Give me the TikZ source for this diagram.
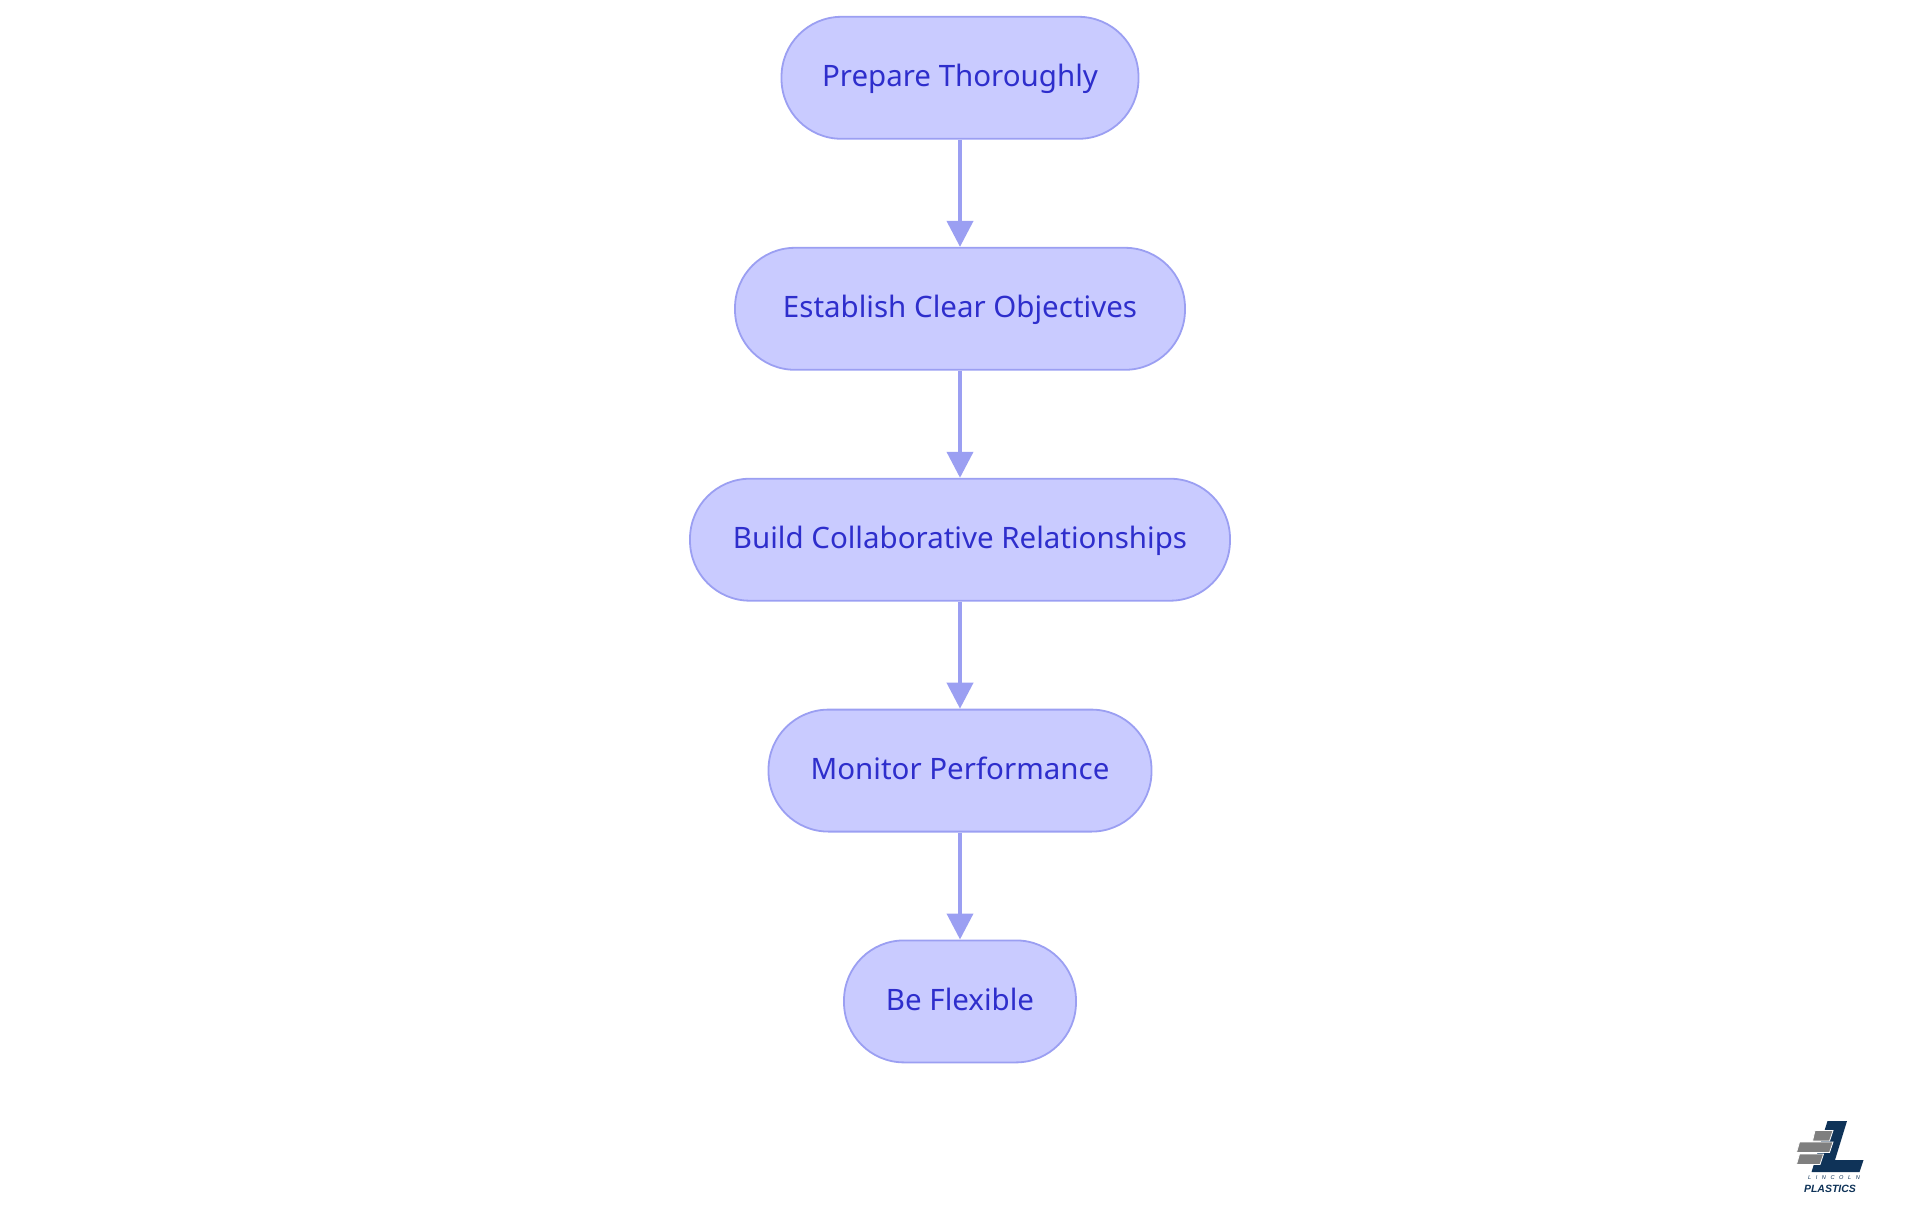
\documentclass[tikz,border=0pt]{standalone}
\usepackage{fontspec}
\setmainfont{Noto Sans}
\newfontfamily\logofont{Liberation Sans}
\usetikzlibrary{arrows.meta}
\definecolor{boxfill}{HTML}{C9CBFF}
\definecolor{boxline}{HTML}{9B9FF2}
\definecolor{boxtext}{HTML}{2E2ECC}
\definecolor{logoblue}{HTML}{0F3358}
\definecolor{logogray}{HTML}{7F7F7F}
\tikzset{
	stage/.style={draw=boxline, fill=boxfill, text=boxtext, line width=1.8pt, rounded corners=60pt, minimum height=122pt, inner sep=0pt, text height=23pt, text depth=5.8pt, font=\fontsize{29.5}{34}\selectfont},
	flow/.style={draw=boxline, line width=4pt, -{Triangle[width=26pt,length=26pt]}},
	brick/.style={fill=logogray, draw=white, line width=0.8pt},
}
\begin{document}
\begin{tikzpicture}[x=1pt,y=1pt]
	\useasboundingbox (0,0) rectangle (1920,-1215);

	\node[stage, minimum width=357pt] at (960,-77.8) (prepare) {Prepare Thoroughly};
	\node[stage, minimum width=450pt] at (960,-308.8) (establish) {Establish Clear Objectives};
	\node[stage, minimum width=540pt] at (960,-539.7) (build) {Build Collaborative Relationships};
	\node[stage, minimum width=383pt] at (960,-770.6) (monitor) {Monitor Performance};
	\node[stage, minimum width=232pt] at (960,-1001.4) (flexible) {Be Flexible};

	\draw[flow] (prepare)-- (establish);
	\draw[flow] (establish)-- (build);
	\draw[flow] (build)-- (monitor);
	\draw[flow] (monitor)-- (flexible);

	% logo
	\fill[logoblue] (1827.5,-1121) -- (1847,-1121) -- (1835,-1160) -- (1863.5,-1160) -- (1859.5,-1172) -- (1811.5,-1172) -- cycle;
	\filldraw[brick] (1815,-1130.5) -- (1833,-1130.5) -- (1829.5,-1141) -- (1812.5,-1141) -- cycle;
	\filldraw[brick] (1799.5,-1142) -- (1833,-1142) -- (1829.5,-1152.5) -- (1796.5,-1152.5) -- cycle;
	\filldraw[brick] (1799.5,-1154) -- (1823.5,-1154) -- (1820,-1164.5) -- (1796.5,-1164.5) -- cycle;
	\node[text=logoblue, font=\logofont\fontsize{5.6}{7}\itshape\selectfont, inner sep=0pt] at (1834,-1178) (lincoln) {L\hspace{4.6pt}I\hspace{4.6pt}N\hspace{4.6pt}C\hspace{4.6pt}O\hspace{4.6pt}L\hspace{4.6pt}N};
	\node[text=logoblue, font=\logofont\fontsize{10.5}{12}\bfseries\itshape\selectfont, inner sep=0pt] at (1830,-1188.5) (plastics) {PLASTICS};
\end{tikzpicture}
\end{document}
